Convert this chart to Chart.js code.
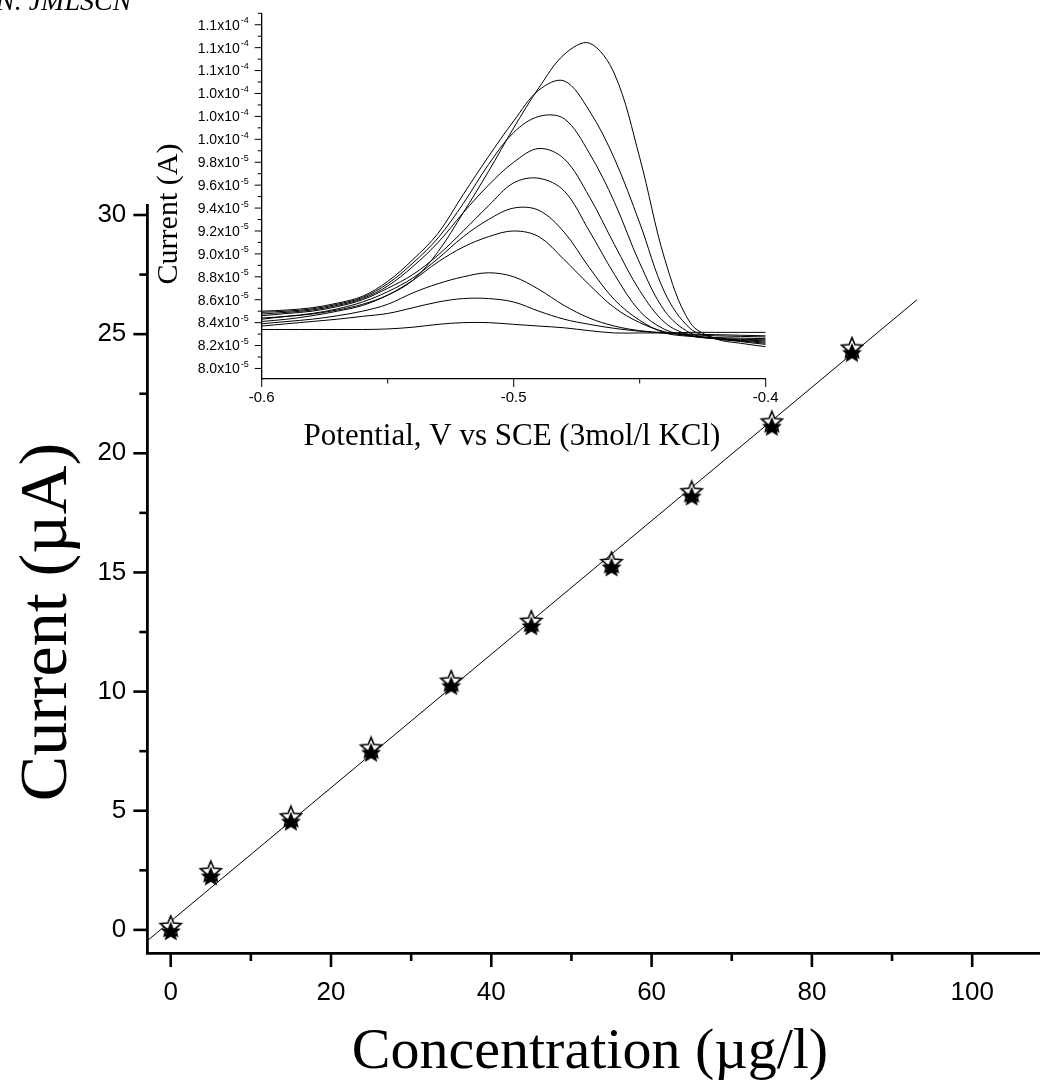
<!DOCTYPE html>
<html><head><meta charset="utf-8">
<script src="https://cdn.jsdelivr.net/npm/chart.js@4.4.0/dist/chart.umd.min.js"></script>
<style>
html,body{margin:0;padding:0;background:#fff;}
#wrap{position:relative;width:1040px;height:1090px;overflow:hidden;background:#fff;}
#main{position:absolute;left:0;top:0;}
#inset{position:absolute;left:150px;top:0;}
</style></head><body>
<div id="wrap">
<canvas id="main" width="1040" height="1090"></canvas>
<canvas id="inset" width="640" height="460"></canvas>
</div>
<script>
// ---------- main chart data ----------
const concentration = [0, 5, 15, 25, 35, 45, 55, 65, 75, 85];          // µg/l
const current = [0.0, 2.30, 4.60, 7.49, 10.29, 12.80, 15.27, 18.24, 21.17, 24.27]; // µA
const fitX = [-2.9, 93.1];
const fitY = [-0.45, 26.44];
const xTicks = [0, 20, 40, 60, 80, 100];
const xMinorTicks = [10, 30, 50, 70, 90];
const yTicks = [0, 5, 10, 15, 20, 25, 30];
const yMinorTicks = [2.5, 7.5, 12.5, 17.5, 22.5, 27.5];
const xTitle = 'Concentration (\u00b5g/l)';
const yTitle = 'Current (\u00b5A)';
const headerText = 'N. JMLSCN';

// ---------- inset data (current in units of 1e-5 A) ----------
const potential = [-0.60,-0.59,-0.58,-0.57,-0.56,-0.55,-0.54,-0.53,-0.52,-0.51,-0.50,-0.49,-0.48,-0.47,-0.46,-0.45,-0.44,-0.43,-0.42,-0.41,-0.40];
const curve1  = [8.44,8.455,8.475,8.51,8.56,8.64,8.77,9.02,9.36,9.72,10.10,10.45,10.74,10.84,10.57,9.84,8.95,8.40,8.26,8.22,8.19];
const curve2  = [8.50,8.51,8.53,8.57,8.63,8.76,8.95,9.18,9.52,9.85,10.16,10.43,10.51,10.25,9.83,9.27,8.66,8.35,8.265,8.235,8.21];
const curve3  = [8.49,8.50,8.52,8.56,8.62,8.74,8.92,9.14,9.44,9.78,10.06,10.20,10.18,9.88,9.45,8.92,8.50,8.31,8.26,8.24,8.22];
const curve4  = [8.475,8.49,8.51,8.55,8.61,8.72,8.89,9.10,9.36,9.60,9.80,9.92,9.83,9.50,9.08,8.68,8.40,8.29,8.26,8.245,8.23];
const curve5  = [8.46,8.48,8.50,8.54,8.60,8.70,8.82,8.99,9.20,9.42,9.62,9.66,9.55,9.20,8.82,8.50,8.34,8.285,8.26,8.25,8.24];
const curve6  = [8.43,8.455,8.48,8.52,8.58,8.67,8.79,8.96,9.15,9.30,9.40,9.38,9.19,8.88,8.60,8.42,8.31,8.28,8.265,8.255,8.25];
const curve7  = [8.41,8.43,8.46,8.50,8.55,8.64,8.77,8.93,9.06,9.15,9.20,9.15,8.95,8.73,8.53,8.40,8.32,8.285,8.27,8.265,8.26];
const curve8  = [8.39,8.41,8.43,8.46,8.50,8.56,8.66,8.74,8.80,8.835,8.80,8.69,8.55,8.44,8.37,8.33,8.31,8.295,8.285,8.28,8.275];
const curve9  = [8.37,8.39,8.41,8.43,8.455,8.48,8.53,8.58,8.61,8.61,8.58,8.50,8.43,8.385,8.35,8.325,8.31,8.30,8.295,8.29,8.285];
const curve10 = [8.34,8.34,8.34,8.34,8.34,8.345,8.36,8.385,8.40,8.40,8.385,8.37,8.355,8.33,8.31,8.31,8.31,8.315,8.315,8.315,8.315];
const insetCurves = [curve1,curve2,curve3,curve4,curve5,curve6,curve7,curve8,curve9,curve10];
const insetXTicks = [-0.6, -0.5, -0.4];
const insetXLabels = ['-0.6', '-0.5', '-0.4'];
const insetXMinorTicks = [-0.55, -0.45];
const insetYTicks = [8.0,8.2,8.4,8.6,8.8,9.0,9.2,9.4,9.6,9.8,10.0,10.2,10.4,10.6,10.8,11.0];
const insetYMantissa = ['8.0','8.2','8.4','8.6','8.8','9.0','9.2','9.4','9.6','9.8','1.0','1.0','1.0','1.1','1.1','1.1'];
const insetYExponent = ['-5','-5','-5','-5','-5','-5','-5','-5','-5','-5','-4','-4','-4','-4','-4','-4'];
const insetYMinorTicks = [8.1,8.3,8.5,8.7,8.9,9.1,9.3,9.5,9.7,9.9,10.1,10.3,10.5,10.7,10.9,11.1];
const insetXTitle = 'Potential, V vs SCE (3mol/l KCl)';
const insetYTitle = 'Current (A)';

// ---------- star symbol (open star over filled star) ----------
function makeStar(){
  const c = document.createElement('canvas'); c.width = 30; c.height = 32;
  const g = c.getContext('2d');
  function star(cx, cy, R){
    g.beginPath();
    for (let i = 0; i < 10; i++){
      const r = i % 2 ? R * 0.45 : R;
      const a = -Math.PI / 2 + i * Math.PI / 5;
      g.lineTo(cx + r * Math.cos(a), cy + r * Math.sin(a));
    }
    g.closePath();
  }
  star(15, 13, 11); g.fillStyle = '#fff'; g.fill(); g.lineWidth = 1.6; g.strokeStyle = '#000'; g.stroke();
  star(15, 18, 10.5); g.fillStyle = '#000'; g.fill();
  return c;
}
const starImg = makeStar();

function tick(ctx, x1, y1, x2, y2){ ctx.beginPath(); ctx.moveTo(x1, y1); ctx.lineTo(x2, y2); ctx.stroke(); }

const mainDecor = {
  id: 'mainDecor',
  afterDraw(chart){
    const ctx = chart.ctx, a = chart.chartArea, xs = chart.scales.x, ys = chart.scales.y;
    ctx.save();
    ctx.strokeStyle = '#000'; ctx.fillStyle = '#000'; ctx.lineWidth = 2.6;
    xTicks.forEach(v => { const p = xs.getPixelForValue(v); tick(ctx, p, a.bottom, p, a.bottom + 14); });
    xMinorTicks.forEach(v => { const p = xs.getPixelForValue(v); tick(ctx, p, a.bottom, p, a.bottom + 8); });
    yTicks.forEach(v => { const p = ys.getPixelForValue(v); tick(ctx, a.left - 14, p, a.left, p); });
    yMinorTicks.forEach(v => { const p = ys.getPixelForValue(v); tick(ctx, a.left - 8, p, a.left, p); });
    ctx.font = '26px "Liberation Sans", Arial, sans-serif';
    ctx.textAlign = 'center'; ctx.textBaseline = 'middle';
    xTicks.forEach(v => ctx.fillText(String(v), xs.getPixelForValue(v), a.bottom + 40));
    ctx.textAlign = 'right';
    yTicks.forEach(v => ctx.fillText(String(v), a.left - 21, ys.getPixelForValue(v)));
    // titles
    ctx.font = '58px "Liberation Serif", "Times New Roman", serif';
    ctx.textAlign = 'center'; ctx.textBaseline = 'alphabetic';
    ctx.fillText(xTitle, 590, 1068);
    ctx.save();
    ctx.translate(66, 622); ctx.rotate(-Math.PI / 2);
    ctx.font = '68px "Liberation Serif", "Times New Roman", serif';
    ctx.fillText(yTitle, 0, 0);
    ctx.restore();
    ctx.font = 'italic 28px "Liberation Serif", "Times New Roman", serif';
    ctx.textAlign = 'left';
    ctx.fillText(headerText, -4, 9.5);
    ctx.restore();
  }
};

new Chart(document.getElementById('main'), {
  type: 'scatter',
  data: { datasets: [
    { data: fitX.map((x, i) => ({ x, y: fitY[i] })), showLine: true, borderColor: '#000', borderWidth: 1, pointRadius: 0, order: 2 },
    { data: concentration.map((x, i) => ({ x, y: current[i] })), showLine: false, pointStyle: starImg, pointRadius: 11, order: 1 }
  ]},
  options: {
    responsive: false, animation: false, devicePixelRatio: 1,
    layout: { autoPadding: false, padding: { left: 0, right: 0, top: 205, bottom: 0 } },
    plugins: { legend: { display: false }, tooltip: { enabled: false } },
    scales: {
      x: { type: 'linear', min: -2.92, max: 108.46, ticks: { display: false }, grid: { display: false },
           border: { display: true, width: 2.8, color: '#000' }, afterFit(s){ s.height = 137; } },
      y: { type: 'linear', min: -0.97, max: 30.42, ticks: { display: false }, grid: { display: false },
           border: { display: true, width: 2.8, color: '#000' }, afterFit(s){ s.width = 147.3; } }
    }
  },
  plugins: [mainDecor]
});

const insetDecor = {
  id: 'insetDecor',
  afterDraw(chart){
    const ctx = chart.ctx, a = chart.chartArea, xs = chart.scales.x, ys = chart.scales.y;
    ctx.save();
    ctx.strokeStyle = '#000'; ctx.fillStyle = '#000'; ctx.lineWidth = 1;
    insetXTicks.forEach(v => { const p = xs.getPixelForValue(v); tick(ctx, p, a.bottom, p, a.bottom + 8); });
    insetXMinorTicks.forEach(v => { const p = xs.getPixelForValue(v); tick(ctx, p, a.bottom, p, a.bottom + 4.5); });
    insetYTicks.forEach(v => { const p = ys.getPixelForValue(v); tick(ctx, a.left - 7, p, a.left, p); });
    insetYMinorTicks.forEach(v => { const p = ys.getPixelForValue(v); tick(ctx, a.left - 4, p, a.left, p); });
    ctx.font = '15px "Liberation Sans", Arial, sans-serif';
    ctx.textAlign = 'center'; ctx.textBaseline = 'middle';
    insetXTicks.forEach((v, i) => ctx.fillText(insetXLabels[i], xs.getPixelForValue(v), a.bottom + 19));
    insetYTicks.forEach((v, i) => {
      const p = ys.getPixelForValue(v);
      ctx.font = '14px "Liberation Sans", Arial, sans-serif';
      ctx.textAlign = 'right'; ctx.textBaseline = 'middle';
      ctx.fillText(insetYMantissa[i] + 'x10', a.left - 22, p + 1);
      ctx.font = '9px "Liberation Sans", Arial, sans-serif';
      ctx.textAlign = 'left';
      ctx.fillText(insetYExponent[i], a.left - 21, p - 4);
    });
    ctx.font = '31px "Liberation Serif", "Times New Roman", serif';
    ctx.textAlign = 'center'; ctx.textBaseline = 'alphabetic';
    ctx.fillText(insetXTitle, 362, 445);
    ctx.save();
    ctx.translate(27, 214); ctx.rotate(-Math.PI / 2);
    ctx.font = '30px "Liberation Serif", "Times New Roman", serif';
    ctx.fillText(insetYTitle, 0, 0);
    ctx.restore();
    ctx.restore();
  }
};

new Chart(document.getElementById('inset'), {
  type: 'scatter',
  data: { datasets: insetCurves.map(c => ({
    data: potential.map((x, i) => ({ x, y: c[i] })), showLine: true, borderColor: '#000', borderWidth: 1,
    pointRadius: 0, tension: 0.35
  }))},
  options: {
    responsive: false, animation: false, devicePixelRatio: 1,
    layout: { autoPadding: false, padding: { left: 0, right: 24.3, top: 13.3, bottom: 0 } },
    plugins: { legend: { display: false }, tooltip: { enabled: false } },
    scales: {
      x: { type: 'linear', min: -0.6, max: -0.4, ticks: { display: false }, grid: { display: false },
           border: { display: true, width: 1.3, color: '#000' }, afterFit(s){ s.height = 81; } },
      y: { type: 'linear', min: 7.908, max: 11.10, ticks: { display: false }, grid: { display: false },
           border: { display: true, width: 1.3, color: '#000' }, afterFit(s){ s.width = 111.7; } }
    }
  },
  plugins: [insetDecor]
});
</script>
</body></html>
